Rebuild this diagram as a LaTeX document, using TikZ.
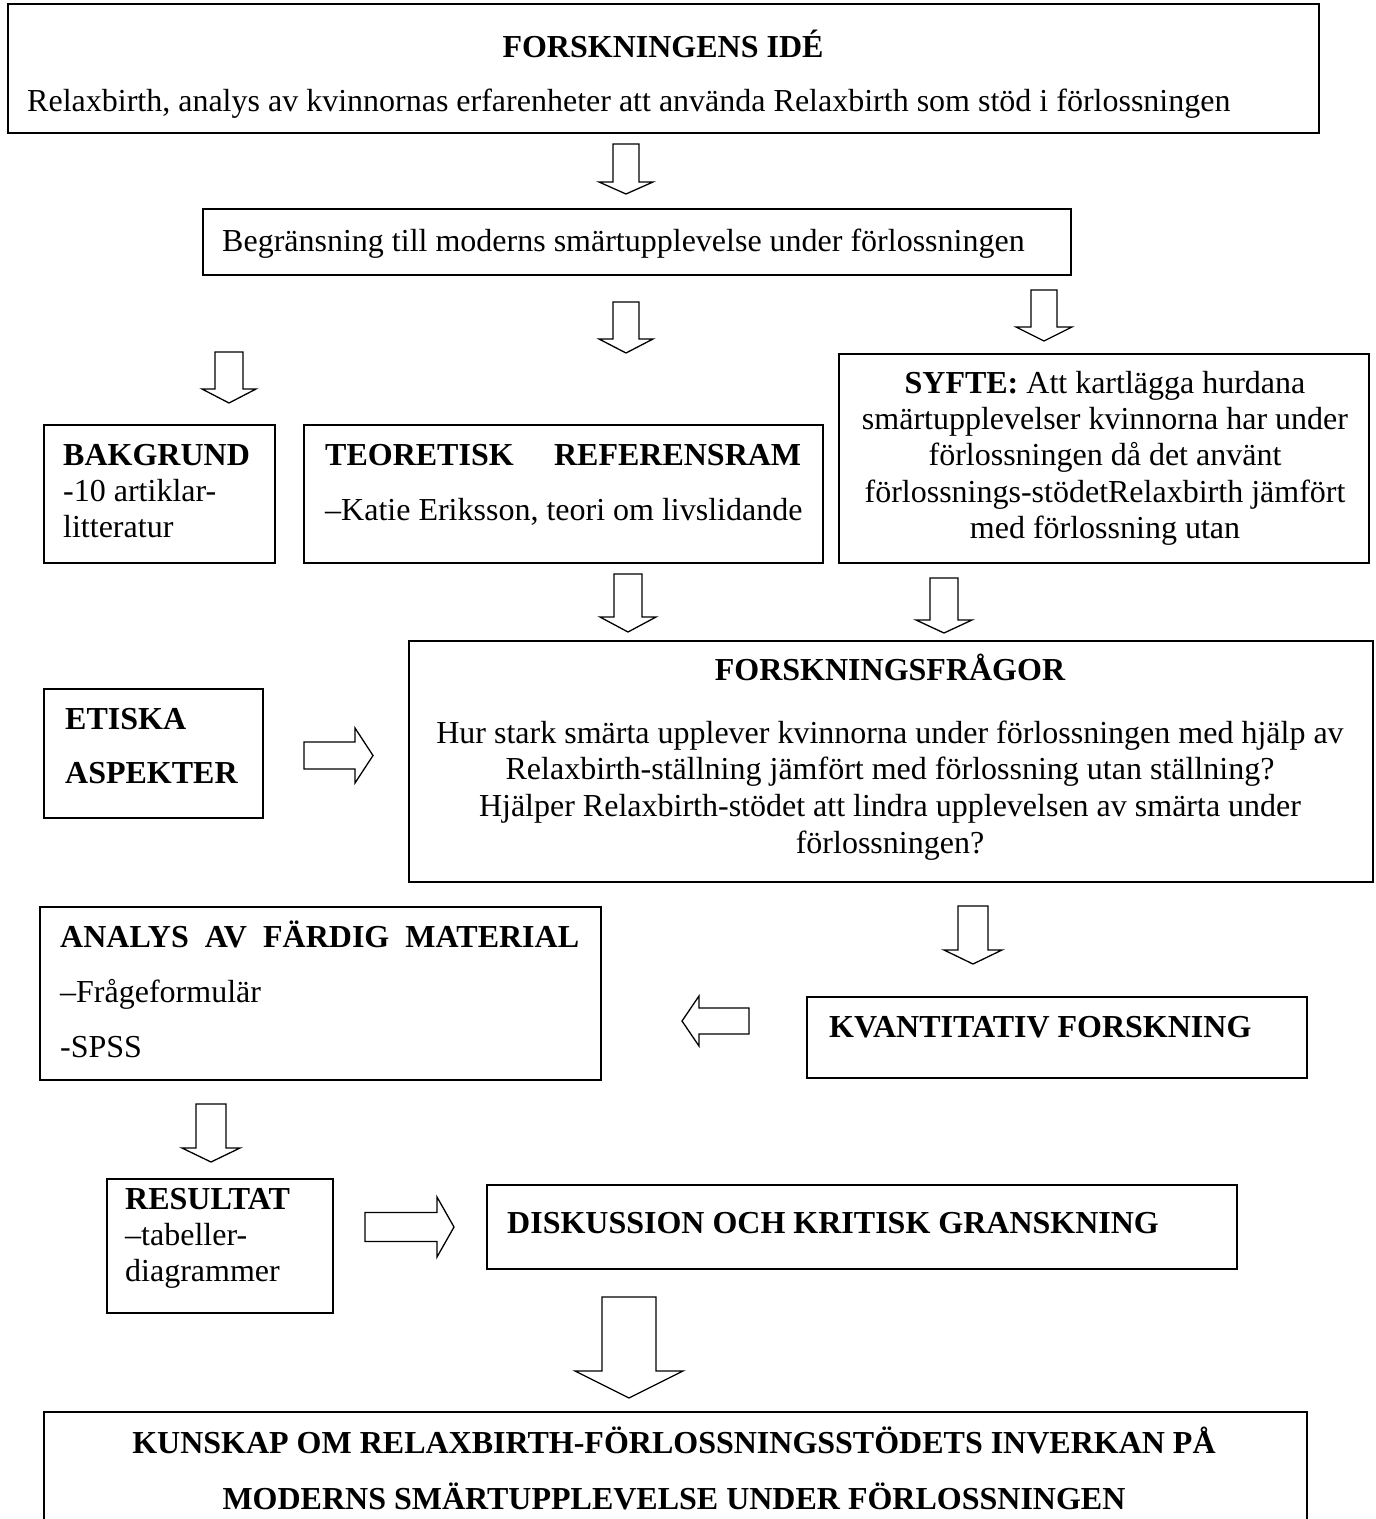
\documentclass[tikz,border=0pt]{standalone}
\usepackage{fontspec}
\setmainfont{Liberation Serif}
\newcommand\myfs{\fontsize{32}{36.5}\selectfont}
\tikzset{
  box/.style={draw, line width=1.5pt, inner sep=0pt, anchor=north west},
  txt/.style={inner sep=0pt, font=\myfs},
  blk/.style={draw, line width=1.3pt, fill=white, line join=miter},
}
% down block arrow: x, y shaft top, y head top, y tip, shaft half width, head half width
\newcommand\DnArr[6]{%
  \draw[blk] (#1-#5,#2) -- (#1+#5,#2) -- (#1+#5,#3) -- (#1+#6,#3) -- (#1,#4)
    -- (#1-#6,#3) -- (#1-#5,#3) -- cycle;}
% horizontal block arrow: x tail, x head base, x tip, y centre, shaft half, head half
\newcommand\HzArr[6]{%
  \draw[blk] (#1,#4-#5) -- (#2,#4-#5) -- (#2,#4-#6) -- (#3,#4) -- (#2,#4+#6)
    -- (#2,#4+#5) -- (#1,#4+#5) -- cycle;}
\begin{document}
\begin{tikzpicture}[x=1pt,y=-1pt]
\fill[white] (0,0) rectangle (1376,1519);
\useasboundingbox (0,0) rectangle (1376,1519);

% ---------- boxes ----------
\node[box, minimum width=1311pt, minimum height=129pt] (idea) at (7,3) {};
\node[box, minimum width=868pt, minimum height=66pt] (begr) at (202,208) {};
\node[box, minimum width=231pt, minimum height=138pt] (bakg) at (43,424) {};
\node[box, minimum width=519pt, minimum height=138pt] (teor) at (303,424) {};
\node[box, minimum width=530pt, minimum height=209pt] (syfte) at (838,353) {};
\node[box, minimum width=964pt, minimum height=241pt] (fragor) at (408,640) {};
\node[box, minimum width=219pt, minimum height=129pt] (etisk) at (43,688) {};
\node[box, minimum width=561pt, minimum height=173pt] (analys) at (39,906) {};
\node[box, minimum width=500pt, minimum height=81pt] (kvant) at (806,996) {};
\node[box, minimum width=226pt, minimum height=134pt] (result) at (106,1178) {};
\node[box, minimum width=750pt, minimum height=84pt] (disk) at (486,1184) {};
\draw[line width=1.5pt] (44,1519) -- (44,1412) -- (1307,1412) -- (1307,1519);

% ---------- texts ----------
\node[txt, anchor=base] (t1) at (663,57) {\bfseries FORSKNINGENS IDÉ};
\node[txt, anchor=base west] (t2) at (27,111) {Relaxbirth, analys av kvinnornas erfarenheter att använda Relaxbirth som stöd i förlossningen};

\node[txt, anchor=base west] (t3) at (222,251) {Begränsning till moderns smärtupplevelse under förlossningen};

\node[txt, anchor=base west] (t4a) at (63,465) {\bfseries BAKGRUND};
\node[txt, anchor=base west] (t4b) at (63,501) {-10 artiklar-};
\node[txt, anchor=base west] (t4c) at (63,537) {litteratur};

\node[txt, anchor=base west] (t5a) at (325,465) {\makebox[476pt][s]{\bfseries TEORETISK REFERENSRAM}};
\node[txt, anchor=base west] (t5b) at (325,520) {–Katie Eriksson, teori om livslidande};

\node[txt, anchor=base] (t6a) at (1105,393) {\textbf{SYFTE:} Att kartlägga hurdana};
\node[txt, anchor=base] (t6b) at (1105,429) {smärtupplevelser kvinnorna har under};
\node[txt, anchor=base] (t6c) at (1105,465) {förlossningen då det använt};
\node[txt, anchor=base] (t6d) at (1105,502) {förlossnings-stödetRelaxbirth jämfört};
\node[txt, anchor=base] (t6e) at (1105,538) {med förlossning utan};

\node[txt, anchor=base west] (t7a) at (65,729) {\bfseries ETISKA};
\node[txt, anchor=base west] (t7b) at (65,783) {\bfseries ASPEKTER};

\node[txt, anchor=base] (t8a) at (890,680) {\bfseries FORSKNINGSFRÅGOR};
\node[txt, anchor=base] (t8b) at (890,743) {Hur stark smärta upplever kvinnorna under förlossningen med hjälp av};
\node[txt, anchor=base] (t8c) at (890,779) {Relaxbirth-ställning jämfört med förlossning utan ställning?};
\node[txt, anchor=base] (t8d) at (890,816) {Hjälper Relaxbirth-stödet att lindra upplevelsen av smärta under};
\node[txt, anchor=base] (t8e) at (890,853) {förlossningen?};

\node[txt, anchor=base west] (t9a) at (60,947) {\makebox[519pt][s]{\bfseries ANALYS AV FÄRDIG MATERIAL}};
\node[txt, anchor=base west] (t9b) at (60,1002) {–Frågeformulär};
\node[txt, anchor=base west] (t9c) at (60,1057) {-SPSS};

\node[txt, anchor=base west] (t10) at (829,1037) {\bfseries KVANTITATIV FORSKNING};

\node[txt, anchor=base west] (t11a) at (125,1209) {\bfseries RESULTAT};
\node[txt, anchor=base west] (t11b) at (125,1245) {–tabeller-};
\node[txt, anchor=base west] (t11c) at (125,1281) {diagrammer};

\node[txt, anchor=base west] (t12) at (507,1233) {\bfseries DISKUSSION OCH KRITISK GRANSKNING};

\node[txt, anchor=base] (t13a) at (674,1453) {\bfseries KUNSKAP OM RELAXBIRTH-FÖRLOSSNINGSSTÖDETS INVERKAN PÅ};
\node[txt, anchor=base] (t13b) at (674,1509) {\bfseries MODERNS SMÄRTUPPLEVELSE UNDER FÖRLOSSNINGEN};

% ---------- block arrows ----------
\DnArr{626}{144}{182}{194}{13}{27}
\DnArr{626}{302}{339}{353}{13}{27}
\DnArr{1044}{290}{327}{341}{13}{28}
\DnArr{229}{352}{389}{403}{14}{27}
\DnArr{628}{574}{617}{632}{14}{28}
\DnArr{944}{578}{620}{633}{14}{28}
\DnArr{973}{906}{950}{964}{15}{29}
\DnArr{211}{1104}{1148}{1162}{15}{29}
\DnArr{629}{1297}{1371}{1398}{27}{54}
\HzArr{304}{355}{373}{755.5}{13.5}{27.5}
\HzArr{749}{699}{682}{1021}{13}{25}
\HzArr{365}{437}{454}{1227}{14.5}{30}
\end{tikzpicture}
\end{document}
